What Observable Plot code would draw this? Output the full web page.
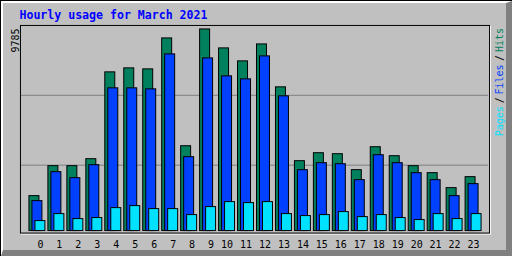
<!DOCTYPE html>
<html>
<head>
<meta charset="utf-8">
<script src="https://cdn.jsdelivr.net/npm/d3@7"></script>
<script src="https://cdn.jsdelivr.net/npm/@observablehq/plot@0.6"></script>
<style>
  html, body { margin: 0; padding: 0; background: #c0c0c0; }
  #wrap { position: relative; width: 512px; height: 256px; box-sizing: border-box;
          border-top: 1px solid #000; border-left: 1px solid #000; background: #c0c0c0; overflow: hidden; }
  #bevel { position: absolute; left: 0; top: 0; right: 0; bottom: 0;
           border-top: 2px solid #fff; border-left: 2px solid #fff;
           border-right: 6px solid #808080; border-bottom: 6px solid #808080; }
  #wrap svg { position: absolute; left: -1px; top: -1px; z-index: 1; }
</style>
</head>
<body>
<div id="wrap"><div id="bevel"></div></div>
<script>
const title = "Hourly usage for March 2021";
const hours = d3.range(24);
const hits  = [1695, 3149, 3149, 3488, 7702, 7896, 7847, 9349, 4117, 9785, 8865, 8235,
               9058, 6975, 3391, 3778, 3730, 2955, 4069, 3633, 3149, 2810, 2083, 2616];
const files = [1453, 2858, 2567, 3197, 6927, 6927, 6878, 8574, 3585, 8380, 7508, 7363,
               8477, 6539, 2955, 3294, 3245, 2470, 3681, 3294, 2810, 2470, 1695, 2277];
const pages = [ 484,  823,  581,  630, 1114, 1211, 1066, 1066,  775, 1163, 1405, 1356,
               1405,  823,  727,  775,  920,  678,  775,  630,  533,  823,  581,  823];
const yMax = 9785;
const gridValues = [3197, 6588];
const legendParts = ["Hits", "/", "Files", "/", "Pages"];

const colors = {hits: "#00805C", files: "#0040FF", pages: "#00E0FF"};
const rows = hours.map((h, i) => ({hour: h, hits: hits[i], files: files[i], pages: pages[i]}));
const mono = "DejaVu Sans Mono";

const legendColors = ["#00805C", "#000000", "#0040FF", "#000000", "#00E0FF"];
const legendDy = [2.5, 29.5, 39, 72, 81];

const barOpts = (key, dx) => Plot.rectY(rows, {
  x1: "hour", x2: d => d.hour + 1, y1: () => 0, y2: key,
  insetRight: 9, dx, fill: colors[key], stroke: "#000", strokeWidth: 1
});

const chart = Plot.plot({
  width: 512, height: 256,
  marginLeft: 20, marginTop: 25, marginRight: 22, marginBottom: 23,
  style: {background: "transparent", overflow: "visible"},
  x: {domain: [0, 24], range: [29, 485], axis: null},
  y: {domain: [0, yMax], range: [231, 29], axis: null},
  marks: [
    Plot.frame({stroke: "#fff", dx: 1, dy: 1}),
    Plot.frame({stroke: "#000", fill: "#c0c0c0"}),
    Plot.ruleY(gridValues, {stroke: "#808080", insetLeft: 1, insetRight: 1}),
    barOpts("hits", 0),
    barOpts("files", 3),
    barOpts("pages", 6),
    Plot.text(hours, {x: d => d, text: d => String(d), frameAnchor: "bottom",
      textAnchor: "end", lineAnchor: "bottom", dx: 14, dy: 15,
      fontFamily: mono, fontSize: 10, fill: "#000"}),
    Plot.text([title], {frameAnchor: "top-left", textAnchor: "start", lineAnchor: "bottom",
      dx: -1, dy: -6, fill: "#0000FF", fontWeight: "bold", fontSize: 11.6, fontFamily: mono}),
    Plot.text([String(yMax)], {frameAnchor: "top-left", rotate: -90, textAnchor: "end",
      lineAnchor: "bottom", dx: -1, dy: 3, fontFamily: mono, fontSize: 10, fill: "#000"}),
    ...legendParts.map((t, i) => Plot.text([t], {frameAnchor: "top-right", rotate: -90,
      textAnchor: "end", lineAnchor: "bottom", dx: 13.5, dy: legendDy[i],
      fontFamily: mono, fontSize: 10, fill: legendColors[i]}))
  ]
});
document.getElementById("wrap").appendChild(chart);
</script>
</body>
</html>
